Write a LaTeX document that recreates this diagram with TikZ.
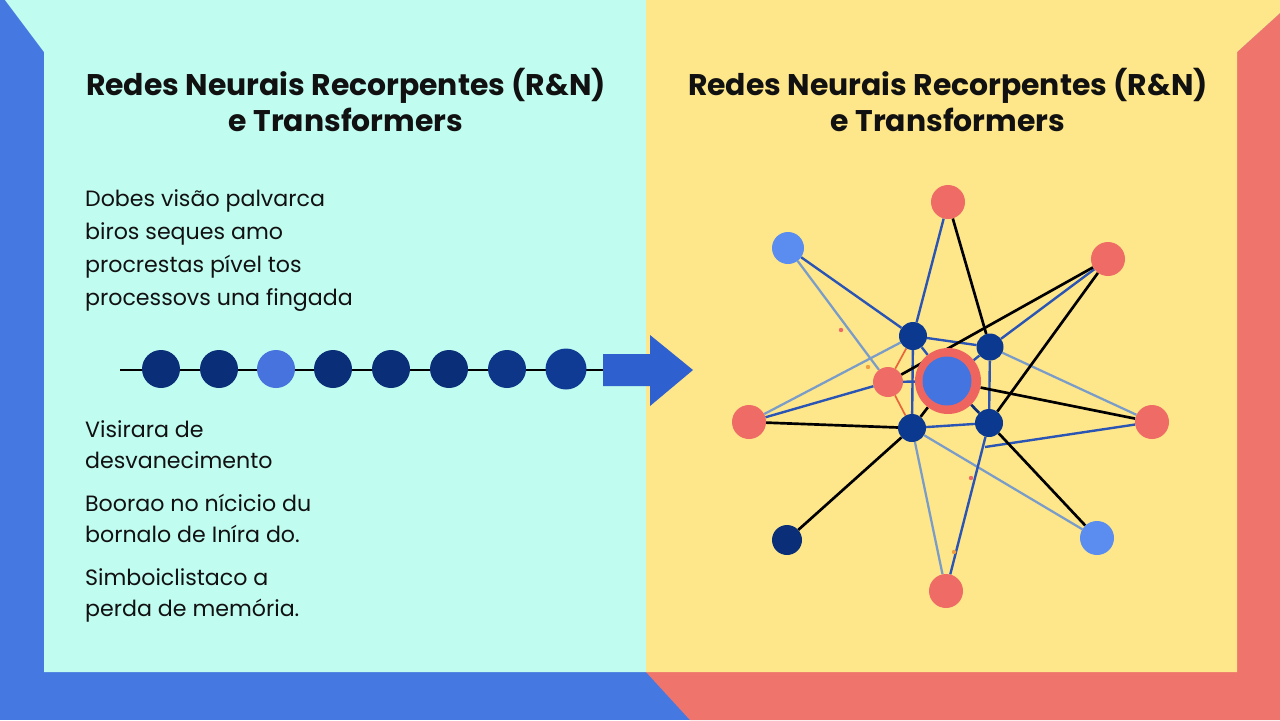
\documentclass[tikz,border=0pt]{standalone}
\usepackage{fontspec}
\setmainfont{Poppins}
\pgfdeclarelayer{back}
\pgfdeclarelayer{edges}
\pgfsetlayers{back,edges,main}
\definecolor{outblue}{HTML}{4579E1}
\definecolor{outred}{HTML}{EF756C}
\definecolor{panelcyan}{HTML}{C1FCF0}
\definecolor{panelyellow}{HTML}{FEE68A}
\definecolor{navy}{HTML}{0B3990}
\definecolor{seqnavy}{HTML}{0A2F78}
\definecolor{seqnavyb}{HTML}{0D3688}
\definecolor{seqnavyc}{HTML}{0F3B94}
\definecolor{seqmid}{HTML}{4673DD}
\definecolor{nodered}{HTML}{EE6B66}
\definecolor{lightblue}{HTML}{5B8DF0}
\definecolor{linkblue}{HTML}{2A55B5}
\definecolor{linklight}{HTML}{7A9CC8}
\definecolor{linkorange}{HTML}{E8643A}
\definecolor{dotorange}{HTML}{F0A040}
\definecolor{arrowblue}{HTML}{2E60D0}
\definecolor{centerblue}{HTML}{4474E0}
\definecolor{ringred}{HTML}{EE6560}
\definecolor{textblack}{HTML}{111111}
\tikzset{
  nd/.style={circle,inner sep=0pt,minimum size=#1mm},
  titletxt/.style={align=center,inner sep=0pt,text=textblack,font=\bfseries\fontsize{42.5}{50}\selectfont},
  bodytxt/.style={anchor=base west,inner sep=0pt,text=textblack,font=\fontsize{31.5}{35}\selectfont},
  lkblue/.style={draw=linkblue,line width=3.4pt},
  lkblack/.style={draw=black,line width=3.8pt},
  lklight/.style={draw=linklight,line width=3.2pt},
  lkorange/.style={draw=linkorange,line width=2.4pt},
}
\begin{document}
\begin{tikzpicture}[x=0.05cm,y=-0.05cm]
\useasboundingbox (0,0) rectangle (1280,720);
\begin{pgfonlayer}{back}
  \fill[outblue] (0,0) rectangle (1280,720);
  \fill[outred] (646,672) -- (690,720) -- (1280,720) -- (1280,13) -- (1237,52) -- (1237,672) -- cycle;
  \fill[panelcyan] (5,0) -- (646,0) -- (646,672) -- (44,672) -- (44,52) -- cycle;
  \fill[panelyellow] (646,0) -- (1280,0) -- (1280,13) -- (1237,52) -- (1237,672) -- (646,672) -- cycle;
\end{pgfonlayer}

% titles
\node[titletxt] (tl) at (346,100) {Redes Neurais Recorpentes (R\&N)\\e Transformers};
\node[titletxt] (tr) at (948,100) {Redes Neurais Recorpentes (R\&N)\\e Transformers};

% body text
\node[bodytxt] (b1) at (85,206) {Dobes visão palvarca};
\node[bodytxt] (b2) at (85,239) {biros seques amo};
\node[bodytxt] (b3) at (85,272) {procrestas pível tos};
\node[bodytxt] (b4) at (85,305) {processovs una fingada};
\node[bodytxt] (c1) at (85,437) {Visirara de};
\node[bodytxt] (c2) at (85,468) {desvanecimento};
\node[bodytxt] (c3) at (85,511) {Boorao no nícicio du};
\node[bodytxt] (c4) at (85,542) {bornalo de Iníra do.};
\node[bodytxt] (c5) at (85,585) {Simboiclistaco a};
\node[bodytxt] (c6) at (85,616) {perda de memória.};

% sequence
\coordinate (lstart) at (120,370);
\coordinate (arr) at (604,370);
\node[nd=19,fill=seqnavy] (s1) at (161,369) {};
\node[nd=19,fill=seqnavy] (s2) at (219,369) {};
\node[nd=19,fill=seqmid] (s3) at (276,369) {};
\node[nd=19,fill=seqnavy] (s4) at (333,369) {};
\node[nd=19,fill=seqnavy] (s5) at (391,369) {};
\node[nd=19,fill=seqnavy] (s6) at (449,369) {};
\node[nd=19,fill=seqnavyb] (s7) at (507,369) {};
\node[nd=20.5,fill=seqnavyc] (s8) at (566,369) {};
\begin{pgfonlayer}{edges}
  \draw[black,line width=4pt] (lstart) -- (arr);
\end{pgfonlayer}
\fill[arrowblue] (603,354) -- (650,354) -- (650,335) -- (693,370) -- (650,406) -- (650,386) -- (603,386) -- cycle;

% network nodes
\node[nd=17,fill=nodered] (top) at (948,202) {};
\node[nd=16,fill=lightblue] (ul) at (788,248) {};
\node[nd=17,fill=nodered] (ur) at (1108,259) {};
\node[nd=17,fill=nodered] (lft) at (749,422) {};
\node[nd=17,fill=nodered] (rgt) at (1152,422) {};
\node[nd=15,fill=seqnavy] (bl) at (787,540) {};
\node[nd=17,fill=lightblue] (br) at (1097,538) {};
\node[nd=17,fill=nodered] (bot) at (946,591) {};
\node[nd=14,fill=navy] (iul) at (913,336) {};
\node[nd=13.5,fill=navy] (iur) at (990,347) {};
\node[nd=14,fill=navy] (ill) at (912,428) {};
\node[nd=14,fill=navy] (ilr) at (989,423) {};
\node[nd=15,fill=nodered] (sr) at (888,382) {};
\node[nd=33,fill=ringred] (ctr) at (948,381) {};
\node[nd=24.5,fill=centerblue] (ctrin) at (947,381) {};
\node[nd=2.2,fill=nodered] (d1) at (841,330) {};
\node[nd=2.2,fill=dotorange] (d2) at (868,367) {};
\node[nd=2.2,fill=nodered] (d3) at (971,478) {};
\node[nd=2.2,fill=dotorange] (d4) at (954,552) {};
\coordinate (jn) at (985,447);

\begin{pgfonlayer}{edges}
  % light links
  \draw[lklight] (ul) -- (sr);
  \draw[lklight] (lft) -- (iul);
  \draw[lklight] (rgt) -- (iur);
  \draw[lklight] (br) -- (ill);
  \draw[lklight] (bot) -- (ill);
  % blue links
  \draw[lkblue] (ul) -- (iul);
  \draw[lkblue] (top) -- (iul);
  \draw[lkblue] (ur) -- (iur);
  \draw[lkblue] (lft) -- (sr);
  \draw[lkblue] (iul) -- (iur);
  \draw[lkblue] (iul) -- (ill);
  \draw[lkblue] (iur) -- (ilr);
  \draw[lkblue] (ill) -- (ilr);
  \draw[lkblue] (iul) -- (ctr);
  \draw[lkblue] (iur) -- (ctr);
  \draw[lkblue] (sr) -- (ctr);
  \draw[lkblue] (bot) -- (ilr);
  \draw[lkblue] (rgt) -- (jn);
  % orange links
  \draw[lkorange] (sr) -- (iul);
  \draw[lkorange] (sr) -- (ill);
  % black links
  \draw[lkblack] (top) -- (iur);
  \draw[lkblack] (ur) -- (sr);
  \draw[lkblack] (ur) -- (ilr);
  \draw[lkblack] (lft) -- (ill);
  \draw[lkblack] (rgt) -- (ctr);
  \draw[lkblack] (bl) -- (ill);
  \draw[lkblack] (br) -- (ilr);
  \draw[lkblack] (ill) -- (ctr);
  \draw[lkblack,draw=seqnavy] (ilr) -- (ctr);
\end{pgfonlayer}
\end{tikzpicture}
\end{document}
